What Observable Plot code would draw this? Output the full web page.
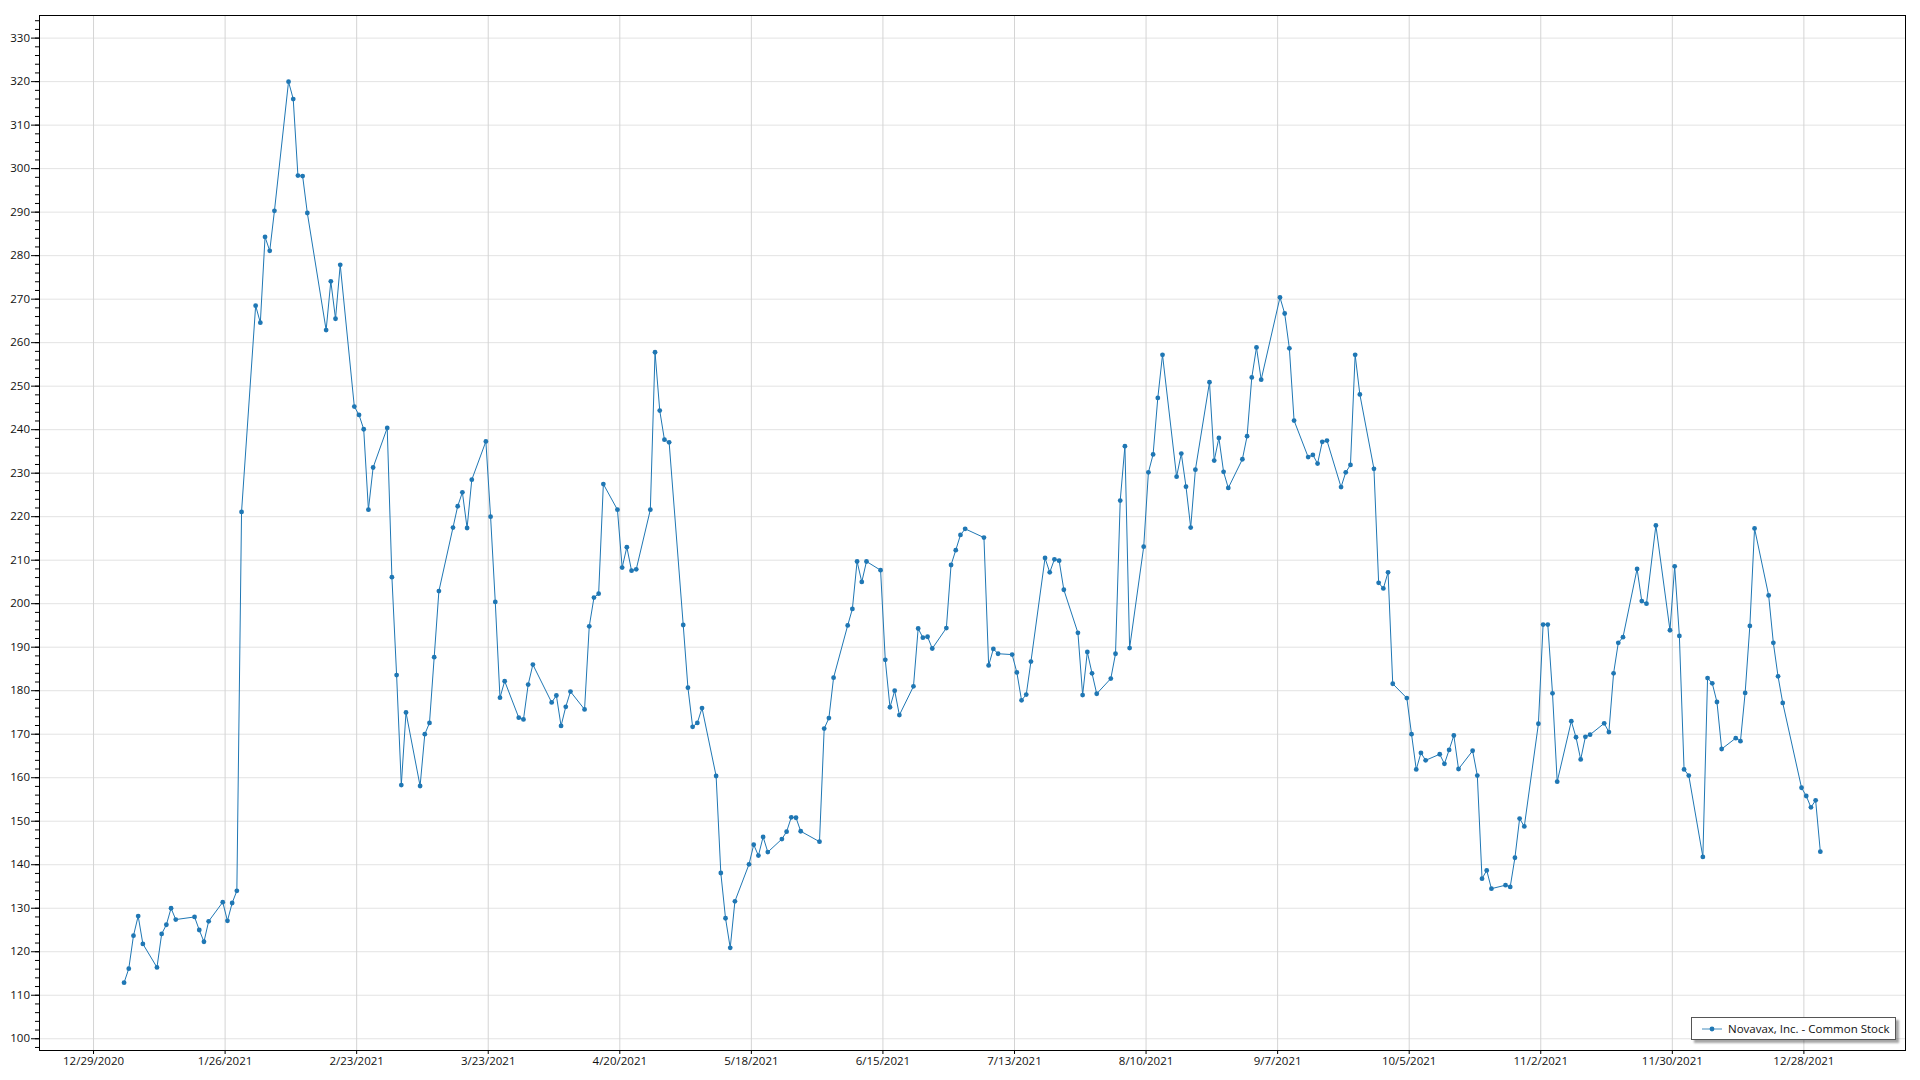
<!DOCTYPE html>
<html>
<head>
<meta charset="utf-8">
<script src="https://cdn.jsdelivr.net/npm/d3@7"></script>
<script src="https://cdn.jsdelivr.net/npm/@observablehq/plot@0.6"></script>
<style>
  html, body { margin: 0; padding: 0; background: #fff; }
  #wrap { position: relative; width: 1920px; height: 1080px; }
  #legend {
    position: absolute; left: 1691px; top: 1017px; width: 205px; height: 23px;
    border: 1px solid #555; background: #fff; box-shadow: 3px 3px 2px rgba(0,0,0,0.35);
    font-family: "Segoe UI", "Open Sans", "Noto Sans", sans-serif; font-size: 11.5px; color: #111;
    display: flex; align-items: center; box-sizing: border-box;
  }
  #legend svg { margin-left: 9px; margin-right: 5px; }
</style>
</head>
<body>
<div id="wrap">
  <div id="chart"></div>
  <div id="legend"></div>
</div>
<script>
// Series name
const seriesName = "Novavax, Inc. - Common Stock";

// NYSE holidays of 2021 (non-trading weekdays)
const holidays = ["2021-01-01","2021-01-18","2021-02-15","2021-04-02","2021-05-31","2021-07-05","2021-09-06","2021-11-25","2021-12-24"];

// Daily closing prices, one array per month (trading days in order)
const jan = [112.9, 116.1, 123.7, 128.2, 121.8, 116.4, 124.1, 126.2, 130.0, 127.4, 128.0, 125.0, 122.3, 127.0, 131.4, 127.1, 131.2, 134.0, 221.1];
const feb = [268.5, 264.6, 284.3, 281.1, 290.3, 320.0, 316.0, 298.4, 298.3, 289.8, 262.9, 274.1, 265.5, 277.9, 245.3, 243.4, 240.1, 221.6, 231.3];
const mar = [240.4, 206.1, 183.6, 158.3, 175.0, 158.1, 170.0, 172.6, 187.7, 202.9, 217.5, 222.4, 225.6, 217.4, 228.5, 237.3, 220.0, 200.4, 178.4, 182.2, 173.8, 173.4, 181.4];
const apr = [186.0, 177.3, 178.9, 171.9, 176.3, 179.8, 175.7, 194.8, 201.4, 202.3, 227.5, 221.6, 208.3, 213.0, 207.6, 207.9, 221.6, 257.8, 244.4, 237.7, 237.1];
const may = [195.1, 180.7, 171.7, 172.6, 176.0, 160.4, 138.1, 127.7, 120.9, 131.6, 140.1, 144.6, 142.1, 146.4, 142.9, 145.9, 147.6, 150.9, 150.8, 147.7];
const jun = [145.3, 171.3, 173.7, 183.0, 195.0, 198.8, 209.7, 205.0, 209.7, 207.7, 187.1, 176.2, 180.0, 174.4, 181.0, 194.3, 192.2, 192.4, 189.7, 194.4, 208.9, 212.3];
const jul = [215.8, 217.2, 215.2, 185.8, 189.6, 188.5, 188.3, 184.2, 177.8, 179.1, 186.7, 210.5, 207.2, 210.2, 209.9, 203.2, 193.3, 179.0, 188.9, 184.0, 179.3];
const aug = [182.8, 188.5, 223.7, 236.2, 189.8, 213.1, 230.2, 234.3, 247.3, 257.2, 229.2, 234.5, 226.9, 217.5, 230.8, 250.9, 232.9, 238.1, 230.3, 226.6, 233.2, 238.5];
const sep = [252.0, 258.9, 251.5, 270.4, 266.7, 258.7, 242.1, 233.7, 234.2, 232.2, 237.2, 237.5, 226.8, 230.2, 231.9, 257.2, 248.1, 231.0, 204.8, 203.5, 207.2];
const oct = [181.6, 178.3, 170.0, 161.9, 165.7, 164.0, 165.4, 163.2, 166.4, 169.7, 162.0, 166.2, 160.5, 136.8, 138.7, 134.5, 135.3, 134.9, 141.6, 150.6, 148.8];
const nov = [172.4, 195.2, 195.2, 179.4, 159.1, 173.0, 169.3, 164.2, 169.4, 169.9, 172.5, 170.5, 184.0, 191.0, 192.3, 208.0, 200.6, 200.0, 218.0, 193.9, 208.6];
const dec = [192.6, 161.9, 160.5, 141.8, 182.9, 181.7, 177.4, 166.6, 169.1, 168.4, 179.5, 194.9, 217.3, 201.9, 191.0, 183.3, 177.2, 157.7, 155.8, 153.2, 154.8, 143.0];

// Axis tick labels
const xTickLabels = ["12/29/2020","1/26/2021","2/23/2021","3/23/2021","4/20/2021","5/18/2021","6/15/2021","7/13/2021","8/10/2021","9/7/2021","10/5/2021","11/2/2021","11/30/2021","12/28/2021"];
const yTickLabels = [100,110,120,130,140,150,160,170,180,190,200,210,220,230,240,250,260,270,280,290,300,310,320,330];
const yMinorTicks = d3.range(98, 336, 2);

// Trading calendar of 2021 (weekdays minus holidays)
const holidaySet = new Set(holidays);
const fmtISO = d3.utcFormat("%Y-%m-%d");
const tradingDays = d3.utcDay.range(new Date(Date.UTC(2021,0,1)), new Date(Date.UTC(2022,0,1)))
  .filter(d => d.getUTCDay() !== 0 && d.getUTCDay() !== 6 && !holidaySet.has(fmtISO(d)));
const closes = [].concat(jan, feb, mar, apr, may, jun, jul, aug, sep, oct, nov, dec);
const data = tradingDays.map((d, i) => ({date: d, close: closes[i]}));

const parseTick = d3.utcParse("%m/%d/%Y");
const xTicks = xTickLabels.map(parseTick);
const fmtTick = d3.utcFormat("%-m/%-d/%Y");

const halfDay = 12 * 3600 * 1000;
const xAcc = d => new Date(d.date.getTime() + halfDay);
const blue = "#1f77b4";
const fontFamily = '"Segoe UI", "Open Sans", "Noto Sans", sans-serif';

const chart = Plot.plot({
  width: 1920,
  height: 1080,
  marginLeft: 39,
  marginRight: 15,
  marginTop: 15,
  marginBottom: 30,
  style: {fontFamily, fontSize: "11.5px", color: "#111", background: "#fff", overflow: "visible"},
  x: {type: "utc", domain: [new Date(Date.UTC(2020,11,17,12)), new Date(Date.UTC(2022,0,18,15))]},
  y: {domain: [97.3, 335.2]},
  marks: [
    Plot.gridY(yTickLabels, {stroke: "#e3e3e3", strokeOpacity: 1}),
    Plot.gridX(xTicks, {stroke: "#d4d4d4", strokeOpacity: 1}),
    Plot.axisY(yMinorTicks, {tickSize: 4, tickFormat: () => "", label: null, stroke: "#000"}),
    Plot.axisY(yTickLabels, {tickSize: 8, tickPadding: 1.5, label: null, stroke: "#000", fill: "#111"}),
    Plot.axisX(xTicks, {tickSize: 4, tickPadding: 2.5, label: null, tickFormat: fmtTick, stroke: "#000", fill: "#111"}),
    Plot.line(data, {x: xAcc, y: "close", stroke: blue, strokeWidth: 1}),
    Plot.dot(data, {x: xAcc, y: "close", r: 2.4, fill: blue, stroke: null}),
    Plot.frame({stroke: "#000", strokeWidth: 1})
  ]
});
document.getElementById("chart").appendChild(chart);

// Legend (inside plot, bottom-right)
const legend = d3.select("#legend");
const sw = legend.append("svg").attr("width", 22).attr("height", 8);
sw.append("line").attr("x1", 1).attr("x2", 21).attr("y1", 4).attr("y2", 4).attr("stroke", blue).attr("stroke-width", 1.2).attr("stroke-opacity", 0.7);
sw.append("circle").attr("cx", 11).attr("cy", 4).attr("r", 2.4).attr("fill", blue);
legend.append("span").text(seriesName);
</script>
</body>
</html>
